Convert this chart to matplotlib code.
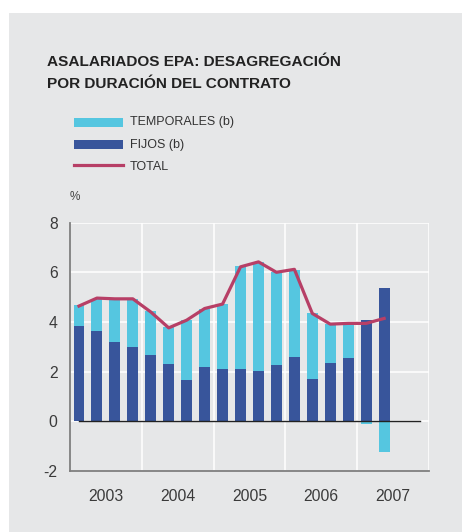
import matplotlib
matplotlib.use('Agg')
import matplotlib.pyplot as plt
from matplotlib.patches import Rectangle
from matplotlib.lines import Line2D
import numpy as np

plt.rcParams['font.family'] = ['Liberation Sans', 'DejaVu Sans']

# Quarterly data, 2003 Q1 - 2007 Q2 (rates of change, %)
quarters = ['2003Q1', '2003Q2', '2003Q3', '2003Q4',
            '2004Q1', '2004Q2', '2004Q3', '2004Q4',
            '2005Q1', '2005Q2', '2005Q3', '2005Q4',
            '2006Q1', '2006Q2', '2006Q3', '2006Q4',
            '2007Q1', '2007Q2']
fijos = [3.83, 3.63, 3.19, 2.98, 2.66, 2.30, 1.65, 2.18, 2.10,
         2.10, 2.02, 2.26, 2.58, 1.69, 2.34, 2.54, 4.07, 5.36]
temporales = [0.85, 1.29, 1.73, 1.94, 1.78, 1.49, 2.42, 2.34, 2.62,
              4.15, 4.40, 3.76, 3.51, 2.66, 1.57, 1.33, -0.12, -1.25]
total = [4.64, 4.96, 4.93, 4.93, 4.40, 3.76, 4.07, 4.54, 4.72,
         6.22, 6.42, 6.00, 6.12, 4.34, 3.91, 3.94, 3.94, 4.14]
years = ['2003', '2004', '2005', '2006', '2007']

c_temp = '#55c6e0'
c_fijos = '#38559b'
c_total = '#b73f66'
bg = '#e6e7e8'

W, H = 462, 532
fig = plt.figure(figsize=(W / 100, H / 100), dpi=100)
fig.patch.set_facecolor('white')

def fx(px):
    return px / W

def fy(py):
    return 1 - py / H

# grey panel
fig.add_artist(Rectangle((fx(9), 0), 1 - fx(9), fy(13), transform=fig.transFigure,
                         facecolor=bg, edgecolor='none', zorder=0))

ax = fig.add_axes([fx(70), fy(470.7), fx(429) - fx(70), fy(222.7) - fy(470.7)])
ax.set_facecolor(bg)

x = np.arange(len(quarters))
fijos_a = np.array(fijos)
temp_a = np.array(temporales)
bottom_t = np.where(temp_a >= 0, fijos_a, 0)

ax.bar(x, fijos_a, width=0.61, color=c_fijos, zorder=2)
ax.bar(x, temp_a, bottom=bottom_t, width=0.61, color=c_temp, zorder=2)
ax.plot([0, 19], [0, 0], color='#222222', lw=1.0, zorder=3)
ax.plot(x, total, color=c_total, lw=2.3, zorder=4, solid_joinstyle='round')

ax.set_xlim(-0.5, 19.5)
ax.set_ylim(-2, 8)
ax.set_yticks([-2, 0, 2, 4, 6, 8])
ax.set_yticklabels(['-2', '0', '2', '4', '6', '8'])
ax.set_xticks([1.5, 5.5, 9.5, 13.5, 17.5])
ax.set_xticklabels(years)
ax.tick_params(length=0, labelsize=11.3, labelcolor='#3a3a3a')
ax.tick_params(axis='y', pad=9)
ax.tick_params(axis='x', pad=13)

for v in [0, 2, 4, 6, 8]:
    ax.axhline(v, color='white', lw=1.1, zorder=1)
for v in [3.5, 7.5, 11.5, 15.5, 19.5]:
    ax.axvline(v, color='white', lw=1.1, zorder=1)

for s in ['top', 'right']:
    ax.spines[s].set_visible(False)
for s in ['left', 'bottom']:
    ax.spines[s].set_color('#7f7f7f')
    ax.spines[s].set_linewidth(1.3)

fig.text(fx(75), fy(197), '%', fontsize=8.5, color='#444444', ha='center', va='center')

# title
fig.text(fx(47), fy(66), 'ASALARIADOS EPA: DESAGREGACIÓN', fontsize=11.1,
         fontweight='bold', color='#222222', va='baseline')
fig.text(fx(47), fy(88.3), 'POR DURACIÓN DEL CONTRATO', fontsize=11.1,
         fontweight='bold', color='#222222', va='baseline')

# legend
fig.add_artist(Rectangle((fx(74), fy(126.7)), fx(49), fy(118.3) - fy(126.7),
                         transform=fig.transFigure, facecolor=c_temp, edgecolor='none'))
fig.add_artist(Rectangle((fx(74), fy(148.7)), fx(49), fy(140.3) - fy(148.7),
                         transform=fig.transFigure, facecolor=c_fijos, edgecolor='none'))
fig.add_artist(Line2D([fx(74), fx(123)], [fy(165), fy(165)], transform=fig.transFigure,
                      color=c_total, lw=2.3))
for label, yy in [('TEMPORALES (b)', 122.5), ('FIJOS (b)', 144.5), ('TOTAL', 167)]:
    fig.text(fx(130), fy(yy), label, fontsize=9, color='#333333', va='center')

fig.savefig('out.png', dpi=100, facecolor=fig.get_facecolor())
